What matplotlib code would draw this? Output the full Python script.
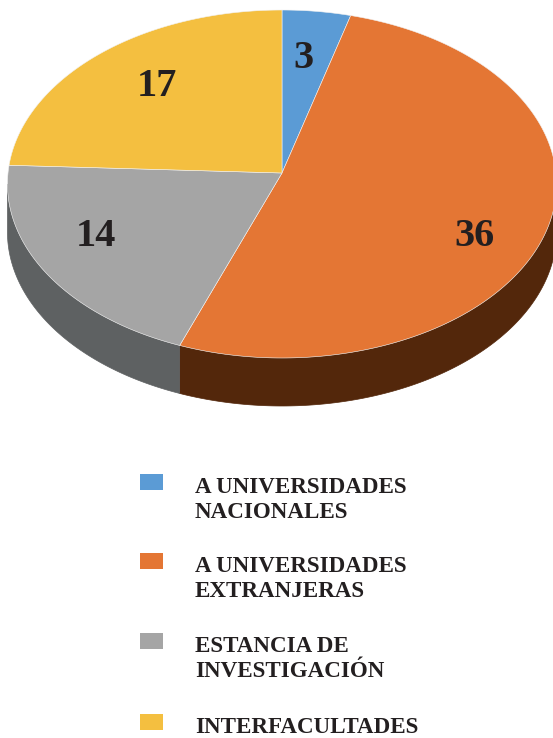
import numpy as np
import matplotlib
matplotlib.use("Agg")
from matplotlib import pyplot as plt
from matplotlib.patches import Polygon, Rectangle

categories = ["A UNIVERSIDADES\nNACIONALES", "A UNIVERSIDADES\nEXTRANJERAS",
              "ESTANCIA DE\nINVESTIGACIÓN", "INTERFACULTADES"]
values = [3, 36, 14, 17]
top_colors = ["#5b9bd5", "#e47634", "#a5a5a5", "#f4bf40"]
side_colors = ["#2e5a85", "#53270b", "#5e6162", "#8a6a16"]

W, H = 553, 738
cx, cy = 282, 173      # pixel centre of the top face
rx, sy = 274, 173.3    # pixel scales
persp = 0.0632         # mild perspective: back half shorter than front
depth = 48             # thickness in pixels


def project(t):
    # angle (rad) on the unit circle -> pixel coords on the tilted top face
    x, y = np.cos(t), np.sin(t)
    d = 1 + persp * y
    return cx + rx * x / d, cy - sy * y / d


fig = plt.figure(figsize=(W / 100, H / 100), dpi=100)
ax = fig.add_axes([0, 0, 1, 1])

# let pie work out the wedge angles, then redraw them as a tilted disc
wedges, _ = ax.pie(values, startangle=90, counterclock=False)
angles = [(w.theta1, w.theta2) for w in wedges]
for w in wedges:
    w.remove()
ax.set_aspect("auto")
ax.set_xlim(0, W)
ax.set_ylim(H, 0)
ax.axis("off")

# visible side: from leftmost to rightmost point of the projected rim
t_left = np.degrees(np.pi + np.arcsin(persp)) - 360   # about -176
t_right = -np.degrees(np.arcsin(persp))              # about -4
for (t1, t2), col in zip(angles, side_colors):
    for shift in (0, -360, 360):
        lo, hi = max(t1 + shift, t_left), min(t2 + shift, t_right)
        if hi > lo:
            t = np.radians(np.linspace(lo, hi, 150))
            px, py = project(t)
            pts = np.concatenate([np.column_stack([px, py]),
                                  np.column_stack([px[::-1], py[::-1] + depth])])
            ax.add_patch(Polygon(pts, closed=True, facecolor=col, edgecolor=col,
                                 linewidth=0.5, zorder=1))

# top face
for (t1, t2), col in zip(angles, top_colors):
    t = np.radians(np.linspace(t1, t2, 200))
    px, py = project(t)
    pts = np.concatenate([[[cx, cy]], np.column_stack([px, py])])
    ax.add_patch(Polygon(pts, closed=True, facecolor=col, edgecolor="#f2f2f2",
                         linewidth=0.4, zorder=3))

# value labels
lab_font = dict(family=["Liberation Serif", "DejaVu Serif"], weight="bold",
                fontsize=29, color="#231f20", ha="center", va="center")
label_pos = [(303, 59), (475, 236), (96, 236), (157, 86)]
for v, (px, py) in zip(values, label_pos):
    fig.text(px / W, 1 - py / H, str(v), **lab_font)

# legend
leg_font = dict(family=["Liberation Serif", "DejaVu Serif"], weight="bold",
                fontsize=16.6, color="#231f20", ha="left", va="baseline")
box_tops = [474, 553, 633, 714]
for name, col, top in zip(categories, top_colors, box_tops):
    fig.patches.append(Rectangle((140 / W, 1 - (top + 16) / H), 23 / W, 16 / H,
                                 transform=fig.transFigure, facecolor=col,
                                 edgecolor="none"))
    for k, line in enumerate(name.split("\n")):
        fig.text(195 / W, 1 - (top + 19 + 25 * k) / H, line, **leg_font)

fig.savefig("out.png", dpi=100)
